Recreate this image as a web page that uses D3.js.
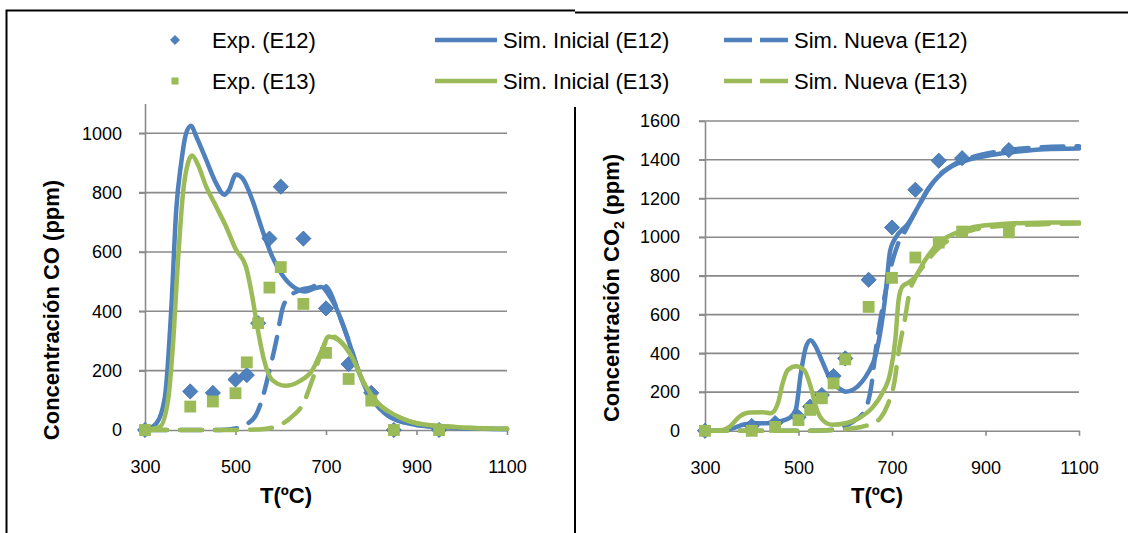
<!DOCTYPE html>
<html>
<head>
<meta charset="utf-8">
<script src="https://cdnjs.cloudflare.com/ajax/libs/d3/7.8.5/d3.min.js"></script>
<style>
body{margin:0;padding:0;background:#fff;}
text{font-family:"Liberation Sans",Arial,sans-serif;}
</style>
</head>
<body>
<div id="chart"></div>
<script>
// experimental temperatures (ºC)
var tempExp=[300,400,450,500,525,550,575,600,650,700,750,800,850,950];
// CO (ppm)
var coExpE12=[0,130,125,170,185,360,645,820,645,410,222,125,0,0];
var coExpE13=[0,79,96,124,228,360,480,549,425,260,172,99,0,0];
// CO2 (ppm)
var co2ExpE12=[0,25,40,70,125,185,283,374,780,1050,1245,1395,1408,1450];
var co2ExpE13=[0,0,20,55,108,168,245,369,640,790,895,972,1029,1025];

// simulations [T, ppm]
var coIniE12=[[300,0],[325,22],[344,112],[358,405],[369,742],[380,900],[391,1000],[402,1025],[413,990],[435,911],[457,832],[475,793],[486,810],[501,861],[515,849],[537,776],[559,675],[581,585],[603,523],[632,478],[654,467],[676,478],[690,482],[705,458],[723,410],[749,304],[771,202],[793,124],[830,56],[866,28],[940,11],[1100,3]];
var coNueE12=[[300,0],[450,0],[475,1],[500,5],[525,20],[545,50],[560,110],[575,200],[590,300],[605,415],[620,450],[640,470],[665,480],[690,492],[708,468],[723,412],[749,306],[771,204],[793,126],[830,57],[866,28],[940,11],[1100,3]];
var coIniE13=[[300,0],[333,11],[351,101],[362,292],[373,574],[384,799],[395,900],[404,925],[417,894],[435,821],[457,754],[479,686],[501,608],[523,551],[537,450],[548,349],[563,236],[581,169],[610,149],[640,163],[670,202],[691,270],[706,315],[727,304],[757,247],[786,152],[815,90],[852,51],[903,22],[976,11],[1100,4]];
var coNueE13=[[300,0],[500,0],[550,2],[575,6],[600,18],[625,45],[650,90],[670,170],[690,262],[705,310],[715,316],[730,302],[757,247],[786,152],[815,90],[852,51],[903,22],[976,11],[1100,4]];

var co2IniE12=[[300,0],[340,3],[360,14],[381,31],[402,39],[431,39],[459,48],[480,65],[494,108],[505,297],[516,434],[526,468],[537,434],[551,357],[569,262],[587,219],[601,202],[618,214],[636,254],[650,305],[664,382],[675,510],[686,700],[696,930],[707,994],[735,1072],[756,1158],[778,1252],[799,1313],[827,1364],[863,1399],[912,1424],[969,1442],[1026,1454],[1100,1458]];
var co2NueE12=[[300,0],[500,0],[560,3],[590,15],[615,45],[643,110],[655,220],[667,450],[680,640],[695,820],[712,960],[730,1040],[750,1130],[780,1255],[800,1318],[830,1372],[870,1412],[920,1440],[980,1458],[1100,1470]];
var co2IniE13=[[300,0],[335,3],[353,22],[374,74],[395,94],[424,96],[441,91],[456,142],[466,245],[477,314],[495,334],[512,314],[526,228],[537,125],[551,57],[572,31],[601,39],[629,65],[657,117],[679,194],[696,297],[707,468],[714,674],[722,745],[735,765],[750,796],[771,882],[799,968],[835,1020],[877,1054],[934,1068],[1012,1075],[1100,1076]];
var co2NueE13=[[300,0],[500,0],[575,3],[600,8],[630,18],[655,35],[675,65],[690,130],[705,250],[715,420],[727,570],[738,720],[750,790],[770,860],[800,945],[835,1005],[877,1040],[934,1058],[1012,1066],[1100,1070]];

var xTicks=[300,500,700,900,1100];
var coTicks=[0,200,400,600,800,1000];
var co2Ticks=[0,200,400,600,800,1000,1200,1400,1600];

var blue="#4F81BD",green="#9BBB59",grid="#8a8a8a";
var legendRows=[
  {exp:"Exp. (E12)",ini:"Sim. Inicial (E12)",nue:"Sim. Nueva (E12)",color:blue,marker:"diamond"},
  {exp:"Exp. (E13)",ini:"Sim. Inicial (E13)",nue:"Sim. Nueva (E13)",color:green,marker:"square"}
];

var W=1128,H=533;
var svg=d3.select("#chart").append("svg").attr("width",W).attr("height",H);
svg.append("rect").attr("width",W).attr("height",H).attr("fill","#fff");

// frame
svg.append("path").attr("d","M6.5,533 V10.5 H575").attr("fill","none").attr("stroke","#000").attr("stroke-width",2);
svg.append("path").attr("d","M575,12.5 H1128").attr("fill","none").attr("stroke","#000").attr("stroke-width",2);
svg.append("line").attr("x1",575).attr("x2",575).attr("y1",107).attr("y2",533).attr("stroke","#000").attr("stroke-width",2);

function marker(g,type,color,size){
  if(type=="diamond"){
    return g.append("path").attr("d",d3.symbol(d3.symbolSquare,size)()).attr("fill",color)
      .attr("stroke","#3f6ea8").attr("stroke-width",0.8);
  }
  return g.append("path").attr("d",d3.symbol(d3.symbolSquare,size)()).attr("fill",color);
}

function drawPanel(cfg){
  var x=d3.scaleLinear().domain([300,1100]).range(cfg.xr);
  var y=d3.scaleLinear().domain([0,cfg.ymax]).range(cfg.yr);
  var g=svg.append("g");

  // gridlines
  g.selectAll(".grid").data(cfg.yTicks.filter(function(d){return d>0;})).join("line")
    .attr("x1",cfg.xr[0]-6).attr("x2",cfg.xr[1])
    .attr("y1",function(d){return y(d);}).attr("y2",function(d){return y(d);})
    .attr("stroke",grid).attr("stroke-width",1.6);

  var ya=g.append("g").attr("transform","translate("+cfg.xr[0]+",0)")
    .call(d3.axisLeft(y).tickValues(cfg.yTicks).tickFormat(d3.format("d")).tickSize(6).tickPadding(cfg.yPad).tickSizeOuter(0));
  var xa=g.append("g").attr("transform","translate(0,"+cfg.yr[0]+")")
    .call(d3.axisBottom(x).tickValues(xTicks).tickFormat(d3.format("d")).tickSize(5).tickPadding(25).tickSizeOuter(0));
  [ya,xa].forEach(function(a){
    a.select(".domain").attr("stroke",grid).attr("stroke-width",1.6);
    a.selectAll(".tick line").attr("stroke",grid).attr("stroke-width",1.6);
    a.selectAll("text").attr("font-size",18).attr("fill","#000").style("font-family","'Liberation Sans',Arial,sans-serif");
  });

  var line=d3.line().x(function(d){return x(d[0]);}).y(function(d){return y(d[1]);}).curve(d3.curveMonotoneX);

  cfg.series.forEach(function(s){
    s.lines.forEach(function(l){
      g.append("path").datum(l.data).attr("d",line).attr("fill","none")
        .attr("stroke",s.color).attr("stroke-width",4.5).attr("stroke-linecap","round")
        .attr("stroke-linejoin","round").attr("stroke-dasharray",l.dash?"22,13":null);
    });
    tempExp.forEach(function(t,i){
      var m=marker(g,s.marker,s.color,s.marker=="diamond"?115:140);
      m.attr("transform","translate("+x(t)+","+y(s.exp[i])+")"+(s.marker=="diamond"?" rotate(45)":""));
    });
  });

  // axis titles
  g.append("text").attr("x",cfg.xtx).attr("y",503).attr("text-anchor","middle")
    .attr("font-size",22).attr("font-weight","bold").text("T(ºC)");
  var yt=g.append("text").attr("transform","translate("+cfg.ytx+","+cfg.yty+") rotate(-90)")
    .attr("text-anchor","middle").attr("font-size",22).attr("font-weight","bold");
  cfg.ytitle(yt);
}

drawPanel({
  xr:[145,507],yr:[430,103.6],ymax:1100,yTicks:coTicks,yPad:17,xtx:286,ytx:59,yty:310,
  ytitle:function(t){t.text("Concentración CO (ppm)");},
  series:[
    {color:blue,marker:"diamond",exp:coExpE12,lines:[{data:coIniE12},{data:coNueE12,dash:true}]},
    {color:green,marker:"square",exp:coExpE13,lines:[{data:coIniE13},{data:coNueE13,dash:true}]}
  ]
});

drawPanel({
  xr:[705,1079],yr:[430.8,121],ymax:1600,yTicks:co2Ticks,yPad:19,xtx:877,ytx:619,yty:288,
  ytitle:function(t){
    t.append("tspan").text("Concentración CO");
    t.append("tspan").attr("font-size",14).attr("dy",5).text("2");
    t.append("tspan").attr("dy",-5).text(" (ppm)");
  },
  series:[
    {color:blue,marker:"diamond",exp:co2ExpE12,lines:[{data:co2IniE12},{data:co2NueE12,dash:true}]},
    {color:green,marker:"square",exp:co2ExpE13,lines:[{data:co2IniE13},{data:co2NueE13,dash:true}]}
  ]
});

// legend
var leg=svg.append("g");
legendRows.forEach(function(r,i){
  var yy=40+i*41;
  var m=marker(leg,r.marker,r.color,r.marker=="diamond"?40:50);
  m.attr("transform","translate(175,"+yy+")"+(r.marker=="diamond"?" rotate(45)":""));
  leg.append("text").attr("x",212).attr("y",yy+8).attr("font-size",22).text(r.exp);
  leg.append("line").attr("x1",435).attr("x2",497).attr("y1",yy).attr("y2",yy)
    .attr("stroke",r.color).attr("stroke-width",4.5);
  leg.append("text").attr("x",503).attr("y",yy+8).attr("font-size",22).text(r.ini);
  leg.append("line").attr("x1",724).attr("x2",788).attr("y1",yy).attr("y2",yy)
    .attr("stroke",r.color).attr("stroke-width",4.5).attr("stroke-dasharray","28,8");
  leg.append("text").attr("x",794).attr("y",yy+8).attr("font-size",22).text(r.nue);
});
</script>
</body>
</html>
